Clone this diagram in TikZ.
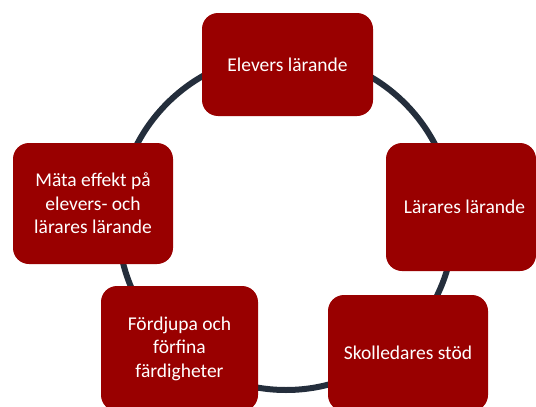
\documentclass[tikz,border=0pt]{standalone}
\usepackage{fontspec}
\setmainfont{Carlito}
\definecolor{boxred}{RGB}{153,0,0}
\definecolor{ringcol}{RGB}{36,46,60}
\tikzset{
  stagebox/.style={draw=none, fill=boxred, rounded corners=16pt, text=white,
    align=center, inner sep=0pt,
    font=\fontsize{19.5}{23.5}\selectfont},
  ringstyle/.style={circle, draw=ringcol, line width=6pt, inner sep=0pt}
}
\begin{document}
\begin{tikzpicture}[x=1pt,y=-1pt]
\clip (0,0) rectangle (536,407);
\useasboundingbox (0,0) rectangle (536,407);
\node[ringstyle, minimum size=336pt] (ring) at (286,222) {};
\node[stagebox, minimum width=171pt, minimum height=103pt] (b1) at (287.5,64.5) {Elevers lärande};
\node[stagebox, minimum width=150pt, minimum height=128pt] (b2) at (461,207) {\hspace*{7pt}Lärares lärande};
\node[stagebox, minimum width=160pt, minimum height=121pt] (b3) at (93,203.5) {Mäta effekt på\\elevers- och\\lärares lärande};
\node[stagebox, minimum width=157pt, minimum height=125pt] (b4) at (179.5,348.5) {Fördjupa och\\förfina\\färdigheter};
\node[stagebox, minimum width=160pt, minimum height=116pt] (b5) at (408,353) {Skolledares stöd};
\end{tikzpicture}
\end{document}
